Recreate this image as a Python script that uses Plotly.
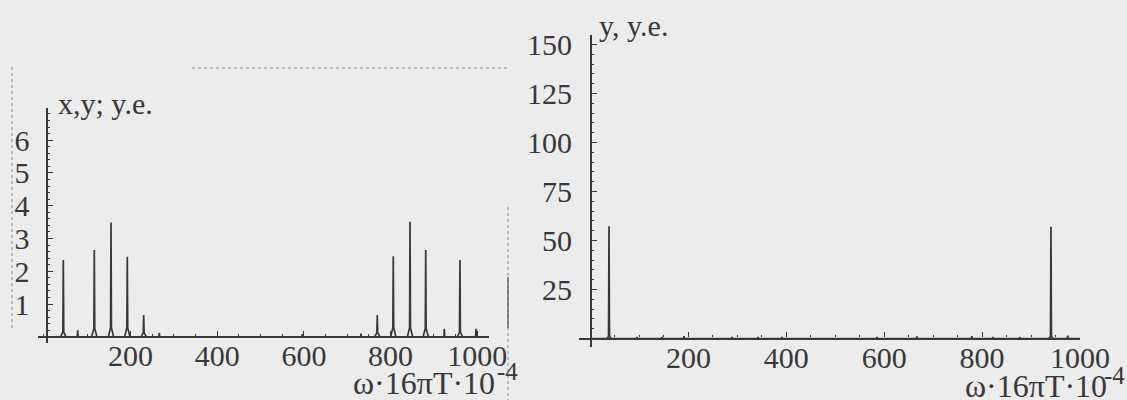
import plotly.graph_objects as go

# ---------------- data ----------------
# Left panel: spectrum of x,y  (frequency in units of w*16*pi*T*1e-4, amplitude in y.e.)
left_freq = [45, 78.2, 116.5, 155, 192.6, 230.4, 266.4, 596.3, 731.7, 769.3, 806.2, 844.8, 881, 923.9, 960, 997]
left_amp = [2.34, 0.20, 2.65, 3.49, 2.44, 0.66, 0.12, 0.08, 0.10, 0.66, 2.46, 3.51, 2.65, 0.24, 2.34, 0.24]
left_foot = [0.14, 0.0, 0.25, 0.28, 0.28, 0.12, 0.0, 0.0, 0.0, 0.12, 0.28, 0.28, 0.25, 0.0, 0.14, 0.0]

# Right panel: spectrum of y
right_freq = [37.8, 95, 146, 191, 289, 342, 391, 585, 667, 779, 822, 877, 940.7, 975]
right_amp = [57.3, 0.8, 0.8, 1.2, 0.8, 0.8, 0.8, 0.8, 1.0, 1.2, 0.8, 0.8, 57.0, 1.4]
right_foot = [1.0, 0, 0, 0, 0, 0, 0, 0, 0, 0, 0, 0, 1.0, 0]

left_xticks = [200, 400, 600, 800, 1000]
left_yticks = [1, 2, 3, 4, 5, 6]
right_xticks = [200, 400, 600, 800, 1000]
right_yticks = [25, 50, 75, 100, 125, 150]

left_ytitle = "x,y; y.e."
right_ytitle = "y, y.e."
xtitle_main = "ω·16πT·10"
xtitle_exp = "-4"

# ---------------- helpers ----------------
W, H = 1127, 400
def PX(px):
    return px / W
def PY(py):
    return 1 - py / H

def spectrum(freqs, amps, feet, x0, x1, half):
    xs, ys = [x0], [0]
    for f, a, b in zip(freqs, amps, feet):
        xs += [f - half, f - 1.0, f, f + 1.0, f + half]
        ys += [0, b, a, b, 0]
    xs.append(x1)
    ys.append(0)
    return xs, ys

INK = "#383838"
FAM = "Liberation Serif, Times New Roman, serif"
FONT = dict(family=FAM, size=30, color=INK)

fig = go.Figure()

lx, ly = spectrum(left_freq, left_amp, left_foot, 7, 1020, 6)
fig.add_trace(go.Scatter(x=lx, y=ly, mode="lines", line=dict(color=INK, width=1.7),
                         xaxis="x", yaxis="y", hoverinfo="skip", showlegend=False))
rx, ry = spectrum(right_freq, right_amp, right_foot, 0, 1000, 5)
fig.add_trace(go.Scatter(x=rx, y=ry, mode="lines", line=dict(color=INK, width=1.7),
                         xaxis="x2", yaxis="y2", hoverinfo="skip", showlegend=False))

axis_common = dict(showline=True, linecolor=INK, linewidth=2.2, showgrid=False, zeroline=False,
                   ticks="inside", ticklen=5, tickwidth=1.4, tickcolor=INK, tickfont=FONT,
                   fixedrange=True, automargin=False)

fig.update_layout(
    width=W, height=H,
    margin=dict(l=0, r=0, t=0, b=0, autoexpand=False),
    paper_bgcolor="#ececec", plot_bgcolor="rgba(0,0,0,0)",
    showlegend=False,
    xaxis=dict(domain=[PX(38), PX(489)], range=[-13.4, 1027], anchor="free", position=PY(336.8),
               tickvals=left_xticks, ticklabelstandoff=-8,
               minor=dict(tickmode="linear", tick0=0, dtick=50, ticks="inside", ticklen=2,
                          tickcolor=INK), **axis_common),
    yaxis=dict(domain=[PY(343), PY(108)], range=[-0.19, 6.98], anchor="free", position=PX(46.7),
               tickvals=left_yticks, ticklabelstandoff=10,
               minor=dict(tickmode="linear", tick0=0, dtick=0.2, ticks="inside", ticklen=2,
                          tickcolor=INK), **axis_common),
    xaxis2=dict(domain=[PX(579), PX(1080)], range=[-23.5, 1000], anchor="free", position=PY(338.5),
                tickvals=right_xticks, ticklabelstandoff=-8,
                minor=dict(tickmode="linear", tick0=0, dtick=50, ticks="inside", ticklen=2,
                           tickcolor=INK), **axis_common),
    yaxis2=dict(domain=[PY(347), PY(35)], range=[-4.34, 154.8], anchor="free", position=PX(591),
                tickvals=right_yticks, ticklabelstandoff=12,
                minor=dict(tickmode="linear", tick0=0, dtick=5, ticks="inside", ticklen=2,
                           tickcolor=INK), **axis_common),
)

ann = dict(xref="paper", yref="paper", showarrow=False)
fig.add_annotation(text=left_ytitle, x=PX(56), y=PY(103), xanchor="left", yanchor="middle", font=FONT, **ann)
fig.add_annotation(text=right_ytitle, x=PX(597), y=PY(25), xanchor="left", yanchor="middle", font=FONT, **ann)

MAIN = dict(family=FAM, size=32, color=INK)
SUP = dict(family=FAM, size=25, color=INK)
# left x-axis title
fig.add_annotation(text=xtitle_main, x=PX(497), y=PY(383), xanchor="right", yanchor="middle", font=MAIN, **ann)
fig.add_annotation(text=xtitle_exp, x=PX(520), y=PY(371), xanchor="right", yanchor="middle", font=SUP, **ann)
# right x-axis title
fig.add_annotation(text=xtitle_main, x=PX(1109), y=PY(386), xanchor="right", yanchor="middle", font=MAIN, **ann)
fig.add_annotation(text=xtitle_exp, x=PX(1127), y=PY(375), xanchor="right", yanchor="middle", font=SUP, **ann)

# dotted frame remnants visible in the scan
dot = dict(color="#8a8a8a", width=1, dash="dot")
fig.add_shape(type="line", xref="paper", yref="paper", x0=PX(192), x1=PX(509), y0=PY(68), y1=PY(68), line=dot)
fig.add_shape(type="line", xref="paper", yref="paper", x0=PX(12), x1=PX(12), y0=PY(67), y1=PY(328), line=dot)
fig.add_shape(type="line", xref="paper", yref="paper", x0=PX(508), x1=PX(508), y0=PY(207), y1=PY(400), line=dot)
fig.add_shape(type="line", xref="paper", yref="paper", x0=PX(508), x1=PX(508), y0=PY(277), y1=PY(328),
              line=dict(color="#6a6a6a", width=1.5))

fig.write_html("out.html")
